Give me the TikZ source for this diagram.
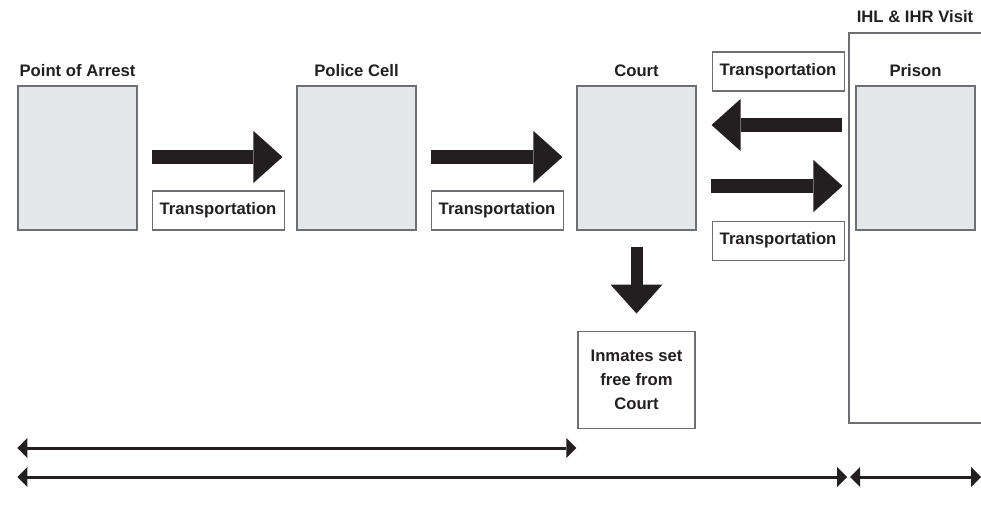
\documentclass[tikz,border=0pt]{standalone}
\usepackage{fontspec}
\setmainfont{Liberation Sans}
\usetikzlibrary{arrows.meta,positioning,calc}

\definecolor{boxfill}{RGB}{230,231,232}
\definecolor{boxline}{RGB}{110,111,114}
\definecolor{ink}{RGB}{35,31,32}

\tikzset{
  stage/.style={draw=boxline, fill=boxfill, line width=0.8pt,
    minimum width=89.25pt, minimum height=108pt, inner sep=0pt},
  heading/.style={font=\fontsize{12.5}{15}\selectfont\bfseries, text=ink, inner sep=0pt},
  transport/.style={draw=boxline, fill=white, line width=0.8pt, text=ink,
    font=\fontsize{12.5}{15}\selectfont\bfseries,
    minimum width=99pt, minimum height=29.25pt, inner sep=0pt},
  release/.style={draw=boxline, fill=white, line width=0.8pt, text=ink,
    font=\fontsize{12.5}{18}\selectfont\bfseries, align=center,
    minimum width=87.75pt, minimum height=72.75pt, inner sep=0pt},
  bigarrow/.style={draw=ink, line width=10.5pt,
    -{Triangle[length=21.75pt,width=39pt,line width=0pt]}},
  span/.style={draw=ink, line width=2.25pt,
    {Triangle[length=7.5pt,width=15pt,line width=0pt]}-{Triangle[length=7.5pt,width=15pt,line width=0pt]}},
  frame/.style={draw=boxline, line width=0.8pt}
}

\begin{document}
\begin{tikzpicture}[x=0.75pt,y=-0.75pt]
  \useasboundingbox (0,0) rectangle (981,506);

  % the stages
  \node[stage] (arrest) at (77.5,158) {};
  \node[stage] (cell) at (356.5,158) {};
  \node[stage] (court) at (636.5,158) {};
  \node[stage] (prison) at (915.5,158) {};

  \node[heading, above=6.75pt of arrest] {Point of Arrest};
  \node[heading, above=6.75pt of cell] {Police Cell};
  \node[heading, above=6.75pt of court] {Court};
  \node[heading, above=6.75pt of prison] {Prison};

  % prison frame
  \coordinate (framene) at (981,33);
  \coordinate (framenw) at (849,33);
  \coordinate (framesw) at (849,423);
  \coordinate (framese) at (981,423);
  \draw[frame] (framene) -- (framenw) -- (framesw) -- (framese);
  \node[heading, anchor=base] (visit) at (915,23) {IHL \& IHR Visit};

  % transport
  \draw[bigarrow] ($(arrest.east)+(14,-1)$) -- ($(cell.west)+(-14,-1)$);
  \draw[bigarrow] ($(cell.east)+(14,-1)$) -- ($(court.west)+(-14,-1)$);
  \draw[bigarrow] ($(prison.west)+(-13,-33)$) -- ($(court.east)+(15,-33)$);
  \draw[bigarrow] ($(court.east)+(14,28)$) -- ($(prison.west)+(-13,28)$);

  \node[transport, anchor=south west] (trans1) at ($(arrest.south east)+(14,0)$) {Transportation};
  \node[transport, anchor=south west] (trans2) at ($(cell.south east)+(14,0)$) {Transportation};
  \node[transport, anchor=north west] (trans3) at ($(court.north east)+(15,-34)$) {Transportation};
  \node[transport, anchor=north west] (trans4) at ($(court.south east)+(15,-10)$) {Transportation};

  % release
  \coordinate (drop) at ($(court.south)+(0,83)$);
  \draw[bigarrow, line width=9pt] ($(court.south)+(0,16)$) -- (drop);
  \node[release, below=12.75pt of drop] (freed) {Inmates set\\free from\\Court};

  % time spans
  \coordinate (row1) at (0,448);
  \coordinate (row2) at (0,477);
  \coordinate (rightend) at (981,477);
  \draw[span] (arrest.west |- row1) -- (court.west |- row1);
  \draw[span] (arrest.west |- row2) -- ($(framesw |- row2)+(-2,0)$);
  \draw[span] ($(framesw |- row2)+(1,0)$) -- (rightend);
\end{tikzpicture}
\end{document}
